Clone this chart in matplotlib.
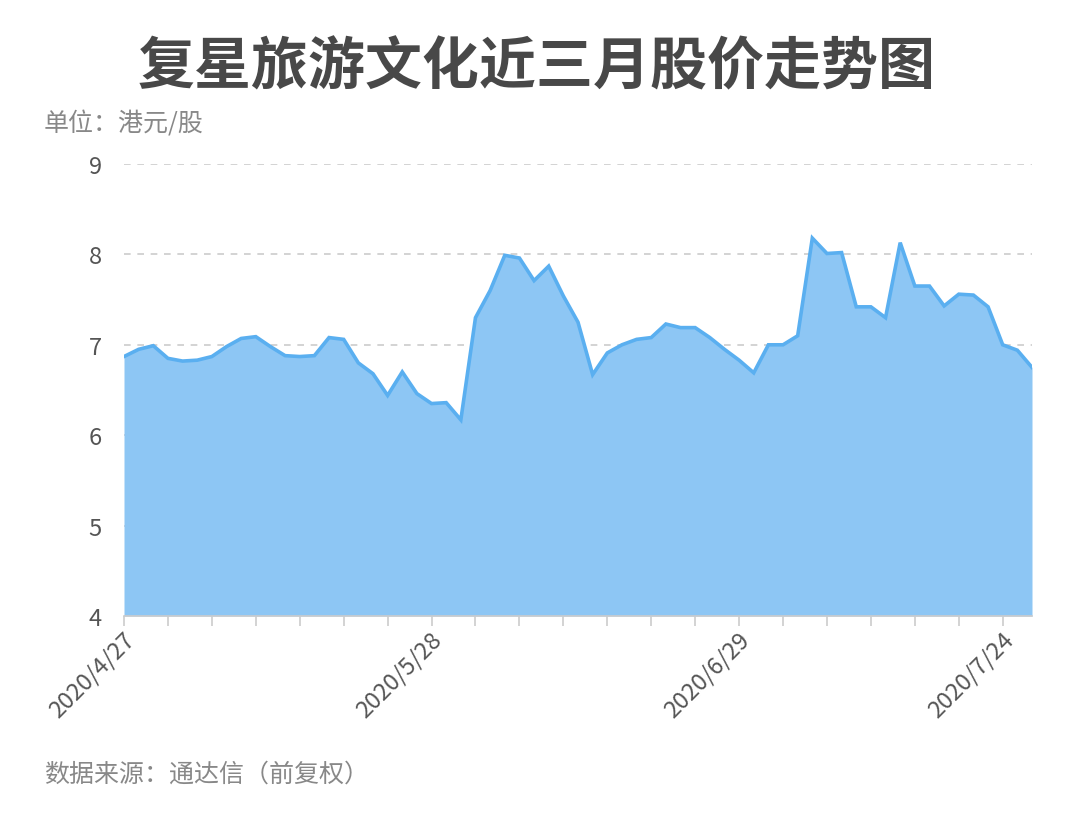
import matplotlib
matplotlib.use("Agg")
import matplotlib.pyplot as plt
import numpy as np

plt.rcParams['font.family'] = ['Noto Sans CJK SC', 'DejaVu Sans']

# closing price (HKD), 63 trading days from 2020/4/27
prices = [6.87, 6.95, 6.99, 6.85, 6.82, 6.83, 6.87, 6.98, 7.07, 7.09,
          6.98, 6.88, 6.87, 6.88, 7.08, 7.06, 6.80, 6.68, 6.44, 6.70,
          6.46, 6.35, 6.36, 6.17, 7.30, 7.60, 7.99, 7.96, 7.71, 7.87,
          7.54, 7.25, 6.67, 6.91, 7.00, 7.06, 7.08, 7.23, 7.19, 7.19,
          7.08, 6.95, 6.83, 6.69, 7.00, 7.00, 7.10, 8.18, 8.01, 8.02,
          7.42, 7.42, 7.30, 8.13, 7.65, 7.65, 7.43, 7.56, 7.55, 7.42,
          7.00, 6.94, 6.75]
label_pos = [0, 21, 42, 60]
label_text = ['2020/4/27', '2020/5/28', '2020/6/29', '2020/7/24']
y_ticks = [4, 5, 6, 7, 8, 9]

x = np.arange(len(prices))

fig = plt.figure(figsize=(10.8, 8.37), dpi=100)
ax = fig.add_axes([124 / 1080, 1 - 617 / 837, (1032 - 124) / 1080, (617 - 165) / 837])

ax.fill_between(x, prices, 4, color='#8dc6f4', linewidth=0, zorder=2)
ax.plot(x, prices, color='#5aaff0', linewidth=2.6, zorder=3, solid_joinstyle='miter')

ax.set_xlim(0, len(prices) - 1)
ax.set_ylim(4, 9)
ax.set_yticks(y_ticks)
ax.set_yticklabels([str(v) for v in y_ticks], fontsize=17, color='#555555')
ax.yaxis.grid(True, linestyle=(0, (4, 4)), color='#cccccc', linewidth=1.2, zorder=1)
ax.tick_params(axis='y', length=0, pad=16)

# small ticks every 3 trading days, labels only on a few
ax.set_xticks(np.arange(0, len(prices), 3))
ax.set_xticklabels(['' for _ in range(0, len(prices), 3)])
ax.tick_params(axis='x', length=7, color='#cccccc', width=1.2)
for p, t in zip(label_pos, label_text):
    ax.annotate(t, xy=(p, 0), xycoords=('data', 'axes fraction'),
                xytext=(5, -14), textcoords='offset points', rotation=45,
                ha='right', va='center', rotation_mode='anchor',
                fontsize=17, color='#555555')

for s in ['top', 'right', 'left']:
    ax.spines[s].set_visible(False)
ax.spines['bottom'].set_color('#cccccc')
ax.spines['bottom'].set_linewidth(1.2)

fig.text(537 / 1080, 1 - 67 / 837, '复星旅游文化近三月股价走势图', ha='center', va='center',
         fontsize=41, fontweight='bold', color='#484848')
fig.text(44 / 1080, 1 - 124 / 837, '单位：港元/股', ha='left', va='center',
         fontsize=18, color='#888888')
fig.text(44 / 1080, 1 - 775 / 837, '数据来源：通达信（前复权）', ha='left', va='center',
         fontsize=18, color='#888888')

fig.savefig('out.png', dpi=100)
